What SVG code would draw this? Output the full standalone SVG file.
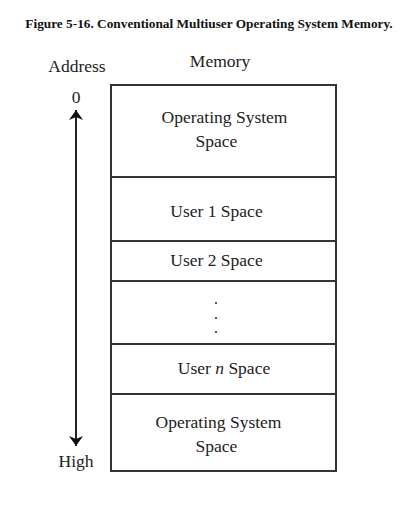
<svg xmlns="http://www.w3.org/2000/svg" width="404" height="506" viewBox="0 0 404 506">
<style>
.t{font-family:'Liberation Serif','Times New Roman','DejaVu Serif',serif;fill:#222;font-size:17.5px}
.c{text-anchor:middle}
.box{fill:#fff;stroke:#333;stroke-width:2}
.ln{stroke:#222;stroke-width:2;fill:none}
</style>
<defs>
<marker id="ah" viewBox="0 0 10 14" refX="10" refY="7" markerWidth="10" markerHeight="14" markerUnits="userSpaceOnUse" orient="auto">
<path d="M0,0 L10,7 L0,14 L3,7 Z" fill="#111"/>
</marker>
</defs>
<rect width="404" height="506" fill="#fff"/>
<text class="t c" x="209" y="28" font-weight="bold" style="font-size:13.3px;fill:#111">Figure 5-16. Conventional Multiuser Operating System Memory.</text>
<text class="t c" x="77" y="72">Address</text>
<text class="t c" x="220" y="67">Memory</text>
<g id="connectors">
<line class="ln" x1="76" y1="276" x2="76" y2="110" marker-end="url(#ah)"/>
<line class="ln" x1="76" y1="276" x2="76" y2="446" marker-end="url(#ah)"/>
</g>
<text class="t c" x="76" y="103">0</text>
<text class="t c" x="76" y="467">High</text>
<g id="os-top">
<rect class="box" x="111" y="85" width="225" height="92"/>
<text class="t c" x="224.5" y="123">Operating System</text>
<text class="t c" x="216.5" y="147">Space</text>
</g>
<g id="user1">
<rect class="box" x="111" y="177" width="225" height="64"/>
<text class="t c" x="216.5" y="217">User 1 Space</text>
</g>
<g id="user2">
<rect class="box" x="111" y="241" width="225" height="40"/>
<text class="t c" x="216.5" y="266">User 2 Space</text>
</g>
<g id="dots">
<rect class="box" x="111" y="281" width="225" height="63"/>
<circle cx="216" cy="303" r="1.1" fill="#333"/>
<circle cx="216" cy="318" r="1.1" fill="#333"/>
<circle cx="216" cy="332" r="1.1" fill="#333"/>
</g>
<g id="usern">
<rect class="box" x="111" y="344" width="225" height="50"/>
<text class="t c" x="224" y="374">User <tspan font-style="italic">n</tspan> Space</text>
</g>
<g id="os-bottom">
<rect class="box" x="111" y="394" width="225" height="77"/>
<text class="t c" x="218.5" y="428">Operating System</text>
<text class="t c" x="216.5" y="452">Space</text>
</g>
</svg>
